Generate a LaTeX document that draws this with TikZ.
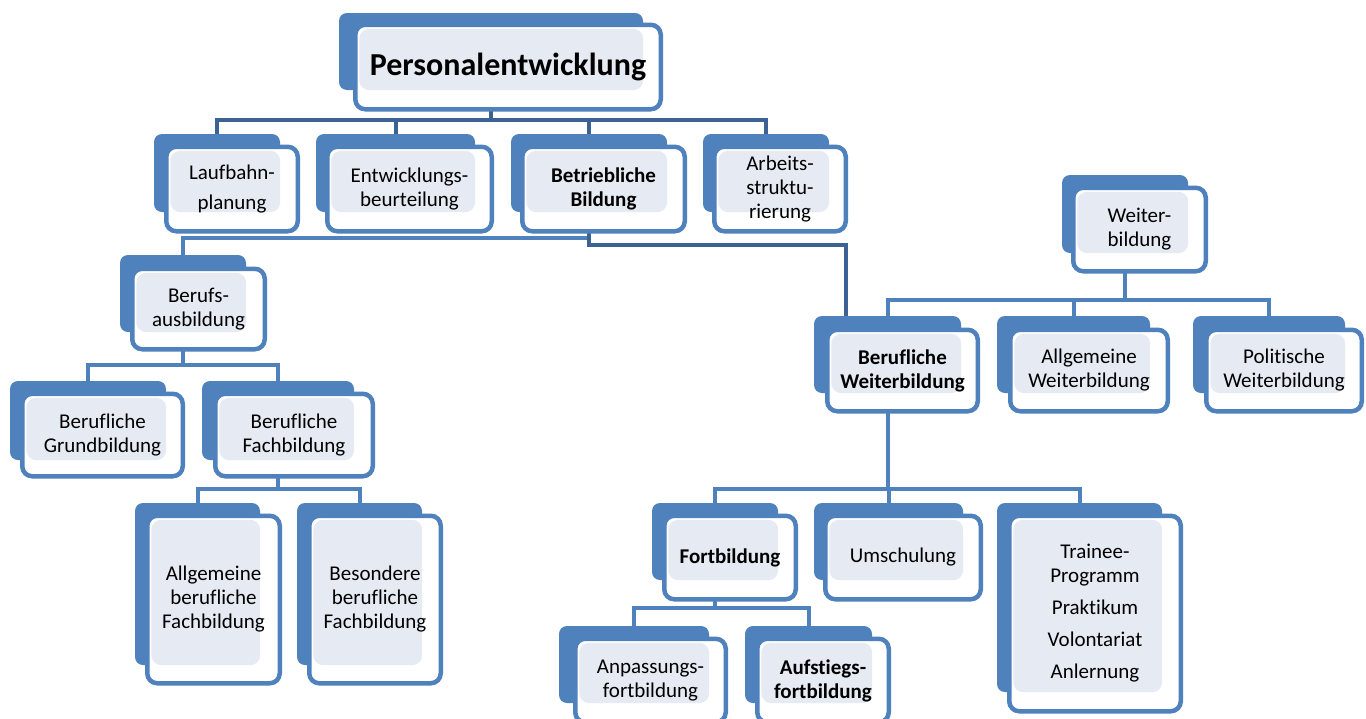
\documentclass[tikz,border=0pt]{standalone}
\usepackage{fontspec}
\setmainfont{Carlito}[Ligatures={NoCommon}]
\usepackage{color}

\definecolor{boxblue}{RGB}{79,129,189}
\definecolor{linkdark}{RGB}{60,98,148}
\definecolor{dotfill}{RGB}{230,235,243}
\pgfdeclarelayer{background}
\pgfsetlayers{background,main}

\begin{document}
\begin{tikzpicture}[x=1pt,y=1pt,yscale=-1,xscale=1,
	back/.style={fill=boxblue,rounded corners=8pt,inner sep=0pt},
	front/.style={draw=boxblue,fill=white,line width=4.5pt,rounded corners=10pt,inner sep=0pt,align=center,
		font=\fontsize{21}{24}\selectfont,
		path picture={\fill[dotfill] ([xshift=4pt,yshift=-4pt]path picture bounding box.north west) rectangle (#1.south east);}},
	bold/.style={font=\fontsize{21}{24}\selectfont\bfseries},
	link/.style={draw=boxblue,line width=4pt},
	darklink/.style={draw=linkdark,line width=4pt}]
		%set diagram left start at 0, and has height of 718
		\useasboundingbox (0,0) rectangle (1366,718);
		
		%Shape: Card [id:pe]
		\node [back,minimum width=304,minimum height=77] (pe-s) at (491,51.5) {};
		\node [front=pe-s,minimum width=305.5,minimum height=84.5,font=\fontsize{32}{38}\selectfont\bfseries] (pe) at (508,67) {Personalentwicklung};
		%Shape: Card [id:lp]
		\node [back,minimum width=126,minimum height=78] (lp-s) at (217,173) {};
		\node [front=lp-s,minimum width=131.5,minimum height=84.5] (lp) at (232,189) {Laufbahn-\\[6pt]planung};
		%Shape: Card [id:eb]
		\node [back,minimum width=159,minimum height=78] (eb-s) at (395.5,173) {};
		\node [front=eb-s,minimum width=164.5,minimum height=84.5] (eb) at (409.5,189) {Entwicklungs-\\beurteilung};
		%Shape: Card [id:bb]
		\node [back,minimum width=156,minimum height=78] (bb-s) at (589,173) {};
		\node [front=bb-s,bold,minimum width=162.5,minimum height=84.5] (bb) at (603.5,189) {Betriebliche\\Bildung};
		%Shape: Card [id:as]
		\node [back,minimum width=126,minimum height=78] (as-s) at (766,173) {};
		\node [front=as-s,minimum width=131.5,minimum height=84.5] (as) at (780,189) {Arbeits-\\struktu-\\rierung};
		%Shape: Card [id:ba]
		\node [back,minimum width=126,minimum height=77] (ba-s) at (183,293.5) {};
		\node [front=ba-s,minimum width=132.5,minimum height=80.5] (ba) at (198.5,309) {Berufs-\\ausbildung};
		%Shape: Card [id:bg]
		\node [back,minimum width=156,minimum height=79] (bg-s) at (88,420.5) {};
		\node [front=bg-s,minimum width=160.5,minimum height=82.5] (bg) at (102.5,435) {Berufliche\\Grundbildung};
		%Shape: Card [id:bf]
		\node [back,minimum width=152,minimum height=79] (bf-s) at (278,420.5) {};
		\node [front=bf-s,minimum width=157.5,minimum height=82.5] (bf) at (294,435) {Berufliche\\Fachbildung};
		%Shape: Card [id:abf]
		\node [back,minimum width=125,minimum height=162] (abf-s) at (197.5,584) {};
		\node [front=abf-s,minimum width=132.5,minimum height=167.5] (abf) at (213.5,599.5) {Allgemeine\\berufliche\\Fachbildung};
		%Shape: Card [id:bsf]
		\node [back,minimum width=125,minimum height=162] (bsf-s) at (359.5,584) {};
		\node [front=bsf-s,minimum width=131.5,minimum height=167.5] (bsf) at (375,599.5) {Besondere\\berufliche\\Fachbildung};
		%Shape: Card [id:wb]
		\node [back,minimum width=126,minimum height=78] (wb-s) at (1125,214) {};
		\node [front=wb-s,minimum width=132.5,minimum height=83.5] (wb) at (1139.5,229.5) {Weiter-\\bildung};
		%Shape: Card [id:bwb]
		\node [back,minimum width=147,minimum height=77] (bwb-s) at (887.5,354.5) {};
		\node [front=bwb-s,bold,minimum width=150.5,minimum height=81.5] (bwb) at (902.5,370.5) {Berufliche\\Weiterbildung};
		%Shape: Card [id:awb]
		\node [back,minimum width=153,minimum height=77] (awb-s) at (1073.5,354.5) {};
		\node [front=awb-s,minimum width=157.5,minimum height=81.5] (awb) at (1089,370.5) {Allgemeine\\Weiterbildung};
		%Shape: Card [id:pwb]
		\node [back,minimum width=152,minimum height=77] (pwb-s) at (1269,354.5) {};
		\node [front=pwb-s,minimum width=155.5,minimum height=81.5] (pwb) at (1284,370.5) {Politische\\Weiterbildung};
		%Shape: Card [id:fb]
		\node [back,minimum width=126,minimum height=77] (fb-s) at (715,541.5) {};
		\node [front=fb-s,bold,minimum width=131.5,minimum height=83.5] (fb) at (730,557.5) {Fortbildung};
		%Shape: Card [id:us]
		\node [back,minimum width=149,minimum height=77] (us-s) at (888.5,541.5) {};
		\node [front=us-s,minimum width=155.5,minimum height=83.5] (us) at (903,557.5) {Umschulung};
		%Shape: Card [id:tp]
		\node [back,minimum width=165,minimum height=189] (tp-s) at (1079.5,597.5) {};
		\node [front=tp-s,minimum width=171.5,minimum height=195.5] (tp) at (1095,613.5) {Trainee-\\Programm\\[8pt]Praktikum\\[8pt]Volontariat\\[8pt]Anlernung};
		%Shape: Card [id:apf]
		\node [back,minimum width=150,minimum height=77] (apf-s) at (634,664.5) {};
		\node [front=apf-s,minimum width=150.5,minimum height=83.5] (apf) at (650.5,680.5) {Anpassungs-\\fortbildung};
		%Shape: Card [id:asf]
		\node [back,minimum width=127,minimum height=77] (asf-s) at (808.5,664.5) {};
		\node [front=asf-s,bold,minimum width=131.5,minimum height=83.5] (asf) at (823,680.5) {Aufstiegs-\\fortbildung};
		
		\begin{pgfonlayer}{background}
		\fill[white] (0,0) rectangle (1366,718);
		%Connectors [id:pe]
		\coordinate (pe-j) at (491,120);
		\draw [darklink] (pe-s.south) -- (pe-j);
		\foreach \c in {lp,eb,bb,as} \draw [darklink] (pe-j) -| (\c-s.north);
		%Connectors [id:bb]
		\coordinate (bb-j) at (589,238);
		\coordinate (bb-k) at (846,245);
		\draw [link] (bb-s.south) -- (bb-j) -| (ba-s.north);
		\draw [darklink] (bb-s.south) |- (bb-k) -- (bb-k |- bwb-s.north);
		%Connectors [id:ba]
		\coordinate (ba-j) at (183,365);
		\draw [link] (ba-s.south) -- (ba-j);
		\foreach \c in {bg,bf} \draw [link] (ba-j) -| (\c-s.north);
		%Connectors [id:bf]
		\coordinate (bf-j) at (278,489);
		\draw [link] (bf-s.south) -- (bf-j);
		\foreach \c in {abf,bsf} \draw [link] (bf-j) -| (\c-s.north);
		%Connectors [id:wb]
		\coordinate (wb-j) at (1125,300);
		\draw [link] (wb-s.south) -- (wb-j);
		\foreach \c in {bwb,awb,pwb} \draw [link] (wb-j) -| (\c-s.north);
		%Connectors [id:bwb]
		\coordinate (bwb-j) at (887.5,489);
		\draw [link] (bwb-s.south) -- (bwb-j);
		\foreach \c in {fb,us,tp} \draw [link] (bwb-j) -| (\c-s.north);
		%Connectors [id:fb]
		\coordinate (fb-j) at (715,608);
		\draw [link] (fb-s.south) -- (fb-j);
		\foreach \c in {apf,asf} \draw [link] (fb-j) -| (\c-s.north);
		\end{pgfonlayer}
	\end{tikzpicture}
\end{document}
